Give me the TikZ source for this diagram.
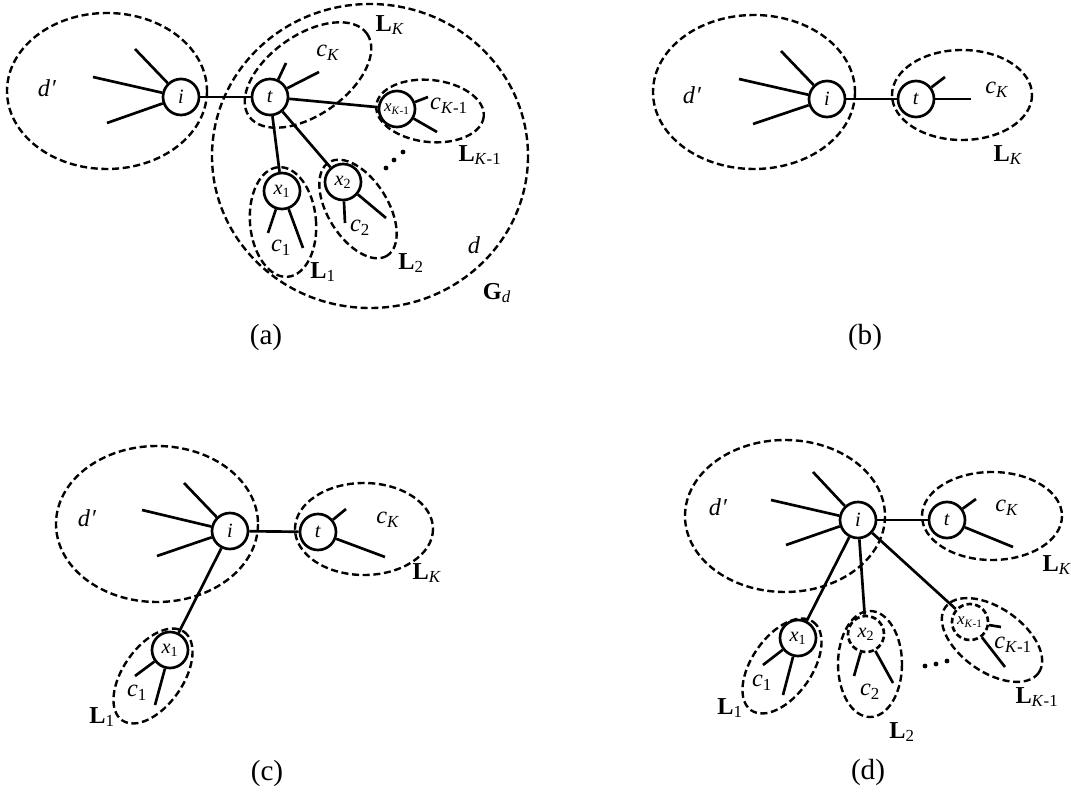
\documentclass[tikz,border=0pt]{standalone}
\usepackage{fontspec}
\setmainfont{Liberation Serif}
\newcommand{\itsub}[2]{\textit{#1}\textsubscript{#2}}
\newcommand{\bfsub}[2]{\textbf{#1}\textsubscript{#2}}
\newcommand{\dpr}{\textit{d\kern0.5pt′}}
\begin{document}
\begin{tikzpicture}[
    x=0.025cm, y=-0.025cm,
    line width=1.9pt,
    vtx/.style={draw, circle, minimum size=0.9cm, inner sep=0pt, font=\Large},
    dvtx/.style={vtx, dash pattern=on 4pt off 2.2pt},
    grp/.style={dash pattern=on 5pt off 2.6pt, line width=1.7pt},
    lbl/.style={font=\LARGE},
    captxt/.style={font=\huge}
  ]
\useasboundingbox (0,0) rectangle (1071,793);

% =================== (a) ===================
\node[vtx] (ai) at (181,97) {\textit{i}};
\node[vtx] (at) at (270,97) {\textit{t}};
\node[vtx] (ax1) at (282,191) {\itsub{x}{1}};
\node[vtx] (ax2) at (343,182) {\itsub{x}{2}};
\node[vtx, font=\large] (axk) at (397,109) {\itsub{x}{\textit{K}-1}};
\draw (ai) -- (at);
\draw (at) -- (axk);
\draw (at) -- (ax1);
\draw (at) -- (ax2);
% dangling edges
\coordinate (ai1) at (135,49); \coordinate (ai2) at (93,77); \coordinate (ai3) at (107,123);
\foreach \k in {1,2,3} \draw (ai) -- (ai\k);
\coordinate (at1) at (286,63); \coordinate (at2) at (319,72);
\foreach \k in {1,2} \draw (at) -- (at\k);
\coordinate (ax11) at (268,233); \coordinate (ax12) at (303,248);
\foreach \k in {1,2} \draw (ax1) -- (ax1\k);
\coordinate (ax21) at (345,223); \coordinate (ax22) at (386,218);
\foreach \k in {1,2} \draw (ax2) -- (ax2\k);
\coordinate (axk1) at (428,97); \coordinate (axk2) at (437,132);
\foreach \k in {1,2} \draw (axk) -- (axk\k);
% groups
\draw[grp] (107,91) ellipse [x radius=100, y radius=78];
\draw[grp] (370,156) ellipse [x radius=158, y radius=152];
\draw[grp, rotate around={35:(308,75)}] (308,75) ellipse [x radius=72, y radius=40];
\draw[grp, rotate around={-6:(430,111)}] (430,111) ellipse [x radius=54, y radius=31];
\draw[grp, rotate around={5:(283,222)}] (283,222) ellipse [x radius=33, y radius=55];
\draw[grp, rotate around={-58:(358,209)}] (358,209) ellipse [x radius=55, y radius=30];
\foreach \p in {(403,152),(394,160),(386,168)} \fill \p circle (2.4);
% labels
\node[lbl] (adp) at (47,88) {\dpr};
\node[lbl] (ack) at (328,53) {\itsub{c}{\textit{K}}};
\node[lbl] (alk) at (390,25) {\bfsub{L}{\textit{K}}};
\node[lbl] (ackm) at (449,106) {\itsub{c}{\textit{K}-1}};
\node[lbl] (alkm) at (480,155) {\bfsub{L}{\textit{K}-1}};
\node[lbl] (ac1) at (281,248) {\itsub{c}{1}};
\node[lbl] (al1) at (323,272) {\bfsub{L}{1}};
\node[lbl] (ac2) at (360,228) {\itsub{c}{2}};
\node[lbl] (al2) at (411,263) {\bfsub{L}{2}};
\node[lbl] (ad) at (474,245) {\textit{d}};
\node[lbl] (agd) at (497,293) {\bfsub{G}{\textit{d}}};
\node[captxt] (capa) at (266,337) {(a)};

% =================== (b) ===================
\node[vtx] (bi) at (827,99) {\textit{i}};
\node[vtx] (bt) at (916,99) {\textit{t}};
\draw (bi) -- (bt);
\coordinate (bi1) at (781,51); \coordinate (bi2) at (739,79); \coordinate (bi3) at (753,124);
\foreach \k in {1,2,3} \draw (bi) -- (bi\k);
\coordinate (bt1) at (945,77); \coordinate (bt2) at (971,99);
\foreach \k in {1,2} \draw (bt) -- (bt\k);
\draw[grp] (754,92) ellipse [x radius=101, y radius=77];
\draw[grp] (962,95) ellipse [x radius=70, y radius=45];
\node[lbl] (bdp) at (692,95) {\dpr};
\node[lbl] (bck) at (997,90) {\itsub{c}{\textit{K}}};
\node[lbl] (blk) at (1008,155) {\bfsub{L}{\textit{K}}};
\node[captxt] (capb) at (865,337) {(b)};

% =================== (c) ===================
\node[vtx] (ci) at (230,531) {\textit{i}};
\node[vtx] (ct) at (318,532) {\textit{t}};
\node[vtx] (cx1) at (170,650) {\itsub{x}{1}};
\draw (ci) -- (ct);
\draw (ci) -- (cx1);
\coordinate (ci1) at (184,483); \coordinate (ci2) at (142,510); \coordinate (ci3) at (157,556);
\foreach \k in {1,2,3} \draw (ci) -- (ci\k);
\coordinate (ct1) at (346,509); \coordinate (ct2) at (385,557);
\foreach \k in {1,2} \draw (ct) -- (ct\k);
\coordinate (cx11) at (135,676); \coordinate (cx12) at (155,705);
\foreach \k in {1,2} \draw (cx1) -- (cx1\k);
\draw[grp] (157,524) ellipse [x radius=101, y radius=78];
\draw[grp] (364,529) ellipse [x radius=69, y radius=46];
\draw[grp, rotate around={55:(153,676)}] (153,676) ellipse [x radius=54, y radius=30];
\node[lbl] (cdp) at (87,518) {\dpr};
\node[lbl] (cck) at (388,520) {\itsub{c}{\textit{K}}};
\node[lbl] (clk) at (427,573) {\bfsub{L}{\textit{K}}};
\node[lbl] (cc1) at (137,693) {\itsub{c}{1}};
\node[lbl] (cl1) at (102,717) {\bfsub{L}{1}};
\node[captxt] (capc) at (267,773) {(c)};

% =================== (d) ===================
\node[vtx] (di) at (858,520) {\textit{i}};
\node[vtx] (dt) at (947,520) {\textit{t}};
\node[vtx] (dx1) at (798,638) {\itsub{x}{1}};
\node[dvtx] (dx2) at (866,634) {\itsub{x}{2}};
\node[dvtx, font=\large] (dxk) at (970,622) {\itsub{x}{\textit{K}-1}};
\draw (di) -- (dt);
\draw (di) -- (dx1);
\draw (di) -- (dx2);
\draw (di) -- (dxk);
\coordinate (di1) at (813,472); \coordinate (di2) at (771,500); \coordinate (di3) at (786,545);
\foreach \k in {1,2,3} \draw (di) -- (di\k);
\coordinate (dt1) at (976,499); \coordinate (dt2) at (1013,547);
\foreach \k in {1,2} \draw (dt) -- (dt\k);
\coordinate (dx11) at (763,665); \coordinate (dx12) at (783,695);
\foreach \k in {1,2} \draw (dx1) -- (dx1\k);
\coordinate (dx21) at (854,676); \coordinate (dx22) at (893,683);
\foreach \k in {1,2} \draw (dx2) -- (dx2\k);
\coordinate (dxk1) at (1001,627); \coordinate (dxk2) at (1005,667);
\foreach \k in {1,2} \draw (dxk) -- (dxk\k);
\draw[grp] (785,516) ellipse [x radius=100, y radius=76];
\draw[grp] (992,516) ellipse [x radius=70, y radius=44];
\draw[grp, rotate around={55:(782,666)}] (782,666) ellipse [x radius=54, y radius=30];
\draw[grp] (870,664) ellipse [x radius=32, y radius=53];
\draw[grp, rotate around={-35:(992,640)}] (992,640) ellipse [x radius=57, y radius=32];
\foreach \p in {(925,666),(936,664),(947,661)} \fill \p circle (2.4);
\node[lbl] (ddp) at (718,507) {\dpr};
\node[lbl] (dck) at (1007,508) {\itsub{c}{\textit{K}}};
\node[lbl] (dlk) at (1057,565) {\bfsub{L}{\textit{K}}};
\node[lbl] (dc1) at (762,683) {\itsub{c}{1}};
\node[lbl] (dl1) at (730,708) {\bfsub{L}{1}};
\node[lbl] (dc2) at (870,692) {\itsub{c}{2}};
\node[lbl] (dl2) at (902,732) {\bfsub{L}{2}};
\node[lbl] (dckm) at (1013,645) {\itsub{c}{\textit{K}-1}};
\node[lbl] (dlkm) at (1037,697) {\bfsub{L}{\textit{K}-1}};
\node[captxt] (capd) at (868,772) {(d)};

\end{tikzpicture}
\end{document}
